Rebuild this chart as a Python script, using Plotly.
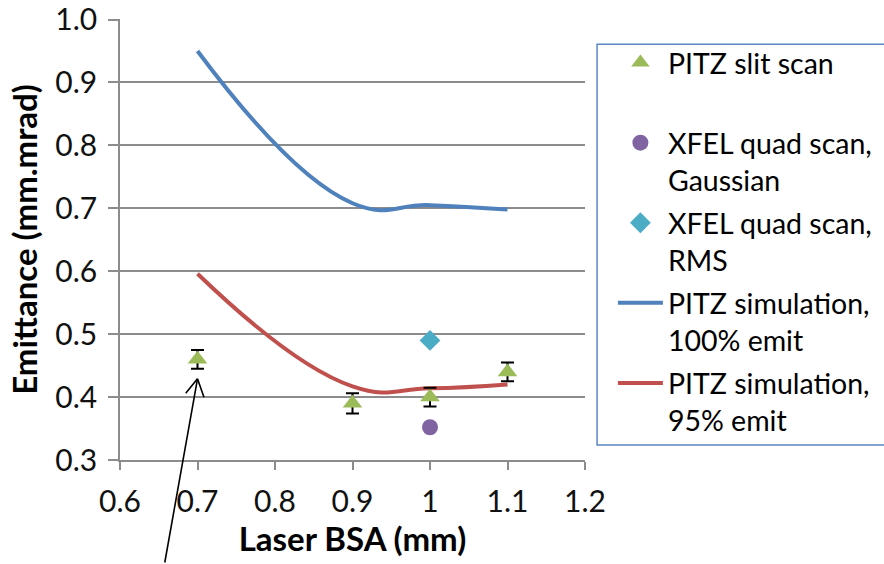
import plotly.graph_objects as go

# Laser beam spot aperture (mm) and emittance values (mm.mrad)
bsa_slit = [0.7, 0.9, 1.0, 1.1]
emit_slit = [0.46, 0.39, 0.40, 0.44]
emit_slit_err = [0.015, 0.016, 0.015, 0.015]

bsa_quad = [1.0]
emit_quad_gauss = [0.352]
emit_quad_rms = [0.49]

bsa_sim = [0.7, 0.9, 1.0, 1.1]
emit_sim_100 = [0.95, 0.708, 0.705, 0.698]
emit_sim_95 = [0.596, 0.417, 0.414, 0.42]

x_ticks = [0.6, 0.7, 0.8, 0.9, 1.0, 1.1, 1.2]
x_tick_text = ["0.6", "0.7", "0.8", "0.9", "1", "1.1", "1.2"]
y_ticks = [0.3, 0.4, 0.5, 0.6, 0.7, 0.8, 0.9, 1.0]

FONT = "Lato"
GRID = "#8c8c8c"

fig = go.Figure()

# simulation curves first so the measured points sit on top
fig.add_trace(go.Scatter(
    x=bsa_sim, y=emit_sim_100, mode="lines",
    line=dict(color="#4F81BD", width=4, shape="spline", smoothing=1.3),
    name="PITZ simulation,<br>100% emit", legendrank=4, legendgroup="g4",
))
fig.add_trace(go.Scatter(
    x=bsa_sim, y=emit_sim_95, mode="lines",
    line=dict(color="#C0504D", width=4, shape="spline", smoothing=1.3),
    name="PITZ simulation,<br>95% emit", legendrank=5, legendgroup="g5",
))
fig.add_trace(go.Scatter(
    x=bsa_slit, y=emit_slit, mode="markers",
    marker=dict(symbol="triangle-up", size=17, color="#9BBB59"),
    error_y=dict(type="data", array=emit_slit_err, color="black",
                 thickness=2, width=6.5),
    name="PITZ slit scan<br> ", legendrank=1, legendgroup="g1",
))
fig.add_trace(go.Scatter(
    x=bsa_quad, y=emit_quad_gauss, mode="markers",
    marker=dict(symbol="circle", size=16, color="#8064A2"),
    name="XFEL quad scan,<br>Gaussian", legendrank=2, legendgroup="g2",
))
fig.add_trace(go.Scatter(
    x=bsa_quad, y=emit_quad_rms, mode="markers",
    marker=dict(symbol="diamond", size=16, color="#4BACC6"),
    name="XFEL quad scan,<br>RMS", legendrank=3, legendgroup="g3",
))

# legend frame
fig.add_shape(type="rect", xref="paper", yref="paper",
              x0=1.026, x1=1.7, y0=0.034, y1=0.943,
              line=dict(color="#5B86C5", width=1.5), fillcolor="white",
              layer="below")

# arrow pointing at the 0.7 mm slit-scan point
arrow_tip = dict(x=0.7, y=0.429, xref="x", yref="y", text="", showarrow=True,
                 arrowhead=0, arrowwidth=1.6, arrowcolor="black",
                 standoff=0, startstandoff=0)
for ax, ay in [(-33, 188), (-13, 16), (7, 20)]:
    fig.add_annotation(**arrow_tip, ax=ax, ay=ay)

fig.update_layout(
    width=884, height=564,
    margin=dict(l=120, r=299, t=19, b=104, autoexpand=False),
    paper_bgcolor="white", plot_bgcolor="white",
    font=dict(family=FONT, size=30, color="#111111"),
    showlegend=True,
    legend=dict(x=1.06, y=0.958, xanchor="left", yanchor="top",
                bgcolor="rgba(0,0,0,0)", borderwidth=0,
                valign="top", itemwidth=45, tracegroupgap=3,
                font=dict(family=FONT, size=28.5, color="black")),
    xaxis=dict(
        range=[0.6, 1.2], tickvals=x_ticks, ticktext=x_tick_text,
        showgrid=False, zeroline=False,
        showline=True, linecolor=GRID, linewidth=1.5,
        ticks="outside", ticklen=8, tickwidth=1.5, tickcolor=GRID,
        ticklabelstandoff=6, ticklabeloverflow="allow",
        title=dict(text="<b>Laser BSA (mm)</b>", standoff=9,
                   font=dict(family=FONT, size=33, color="black")),
    ),
    yaxis=dict(
        range=[0.3, 1.0008], tickvals=y_ticks, tickformat=".1f",
        showgrid=True, gridcolor=GRID, gridwidth=1.5, zeroline=False,
        showline=True, linecolor=GRID, linewidth=1.5,
        ticks="outside", ticklen=10, tickwidth=1.5, tickcolor=GRID,
        ticklabelstandoff=5, ticklabeloverflow="allow",
        title=dict(text="<b>Emittance (mm.mrad)</b>", standoff=8,
                   font=dict(family=FONT, size=33, color="black")),
    ),
)

fig.write_html("out.html")
